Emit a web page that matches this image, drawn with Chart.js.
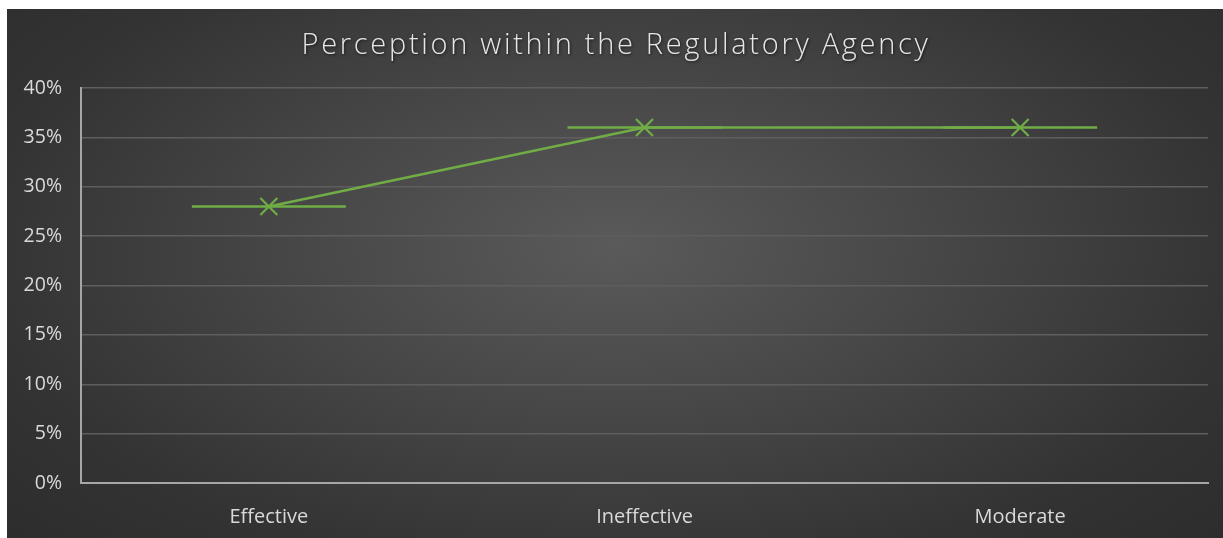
<!DOCTYPE html>
<html>
<head>
<meta charset="utf-8">
<script src="https://cdn.jsdelivr.net/npm/chart.js@4"></script>
<style>
  html, body { margin: 0; padding: 0; background: #ffffff; }
  #wrap {
    position: absolute; left: 7px; top: 9px; width: 1216px; height: 529px;
    background: radial-gradient(ellipse 75% 90% at 50% 45%, #5a5a5a 0%, #474747 35%, #333333 70%, #2a2a2a 100%);
  }
  canvas { display: block; }
</style>
</head>
<body>
<div id="wrap"><canvas id="c" width="1216" height="529"></canvas></div>
<script>
const chartTitle = 'Perception within the Regulatory Agency';
const categories = ['Effective', 'Ineffective', 'Moderate'];
const values = [0.28, 0.36, 0.36];
const yTicks = [0, 0.05, 0.10, 0.15, 0.20, 0.25, 0.30, 0.35, 0.40];
const barHalfWidth = 0.205; // horizontal segment half-width, in category units

const mainData = categories.map((c, i) => ({ x: i, y: values[i] }));
const segData = [];
categories.forEach((c, i) => {
  segData.push({ x: i - barHalfWidth, y: values[i] });
  segData.push({ x: i + barHalfWidth, y: values[i] });
  if (i < categories.length - 1) segData.push({ x: i + 0.5, y: null });
});

const titlePlugin = {
  id: 'customTitle',
  afterDraw(chart) {
    const ctx = chart.ctx;
    ctx.save();
    ctx.font = '300 29px "Open Sans"';
    ctx.letterSpacing = '2.7px';
    ctx.fillStyle = '#e6e6e6';
    ctx.textAlign = 'center';
    ctx.textBaseline = 'middle';
    ctx.shadowColor = 'rgba(0,0,0,0.6)';
    ctx.shadowBlur = 3;
    ctx.shadowOffsetX = 1;
    ctx.shadowOffsetY = 1;
    ctx.fillText(chartTitle, chart.width / 2 + 1, 37);
    ctx.restore();
  }
};

new Chart(document.getElementById('c'), {
  type: 'line',
  data: {
    datasets: [
      {
        data: mainData,
        borderColor: '#70ad47',
        borderWidth: 2.5,
        tension: 0,
        pointStyle: 'crossRot',
        pointRadius: 12,
        pointBorderWidth: 2.25,
        pointBorderColor: '#70ad47',
        pointBackgroundColor: '#70ad47',
        order: 1
      },
      {
        data: segData,
        borderColor: '#70ad47',
        borderWidth: 2.5,
        tension: 0,
        spanGaps: false,
        pointRadius: 0,
        order: 2
      }
    ]
  },
  plugins: [titlePlugin],
  options: {
    responsive: false,
    animation: false,
    layout: { padding: { top: 79, right: 15, bottom: 0, left: 0 } },
    plugins: { legend: { display: false }, tooltip: { enabled: false }, title: { display: false } },
    scales: {
      x: {
        type: 'linear',
        min: -0.5,
        max: categories.length - 0.5,
        afterBuildTicks(scale) { scale.ticks = categories.map((c, i) => ({ value: i })); },
        afterFit(scale) { scale.height = 55; },
        grid: { display: false, drawTicks: false },
        border: { display: true, color: '#a6a6a6', width: 2 },
        ticks: {
          padding: 22,
          maxRotation: 0,
          color: '#d9d9d9',
          font: { family: 'Open Sans', size: 20 },
          callback: (v) => categories[v]
        }
      },
      y: {
        min: 0,
        max: 0.4,
        afterBuildTicks(scale) { scale.ticks = yTicks.map(v => ({ value: v })); },
        afterFit(scale) { scale.width = 74; },
        grid: { color: '#5e5e5e', lineWidth: 1.5, drawTicks: false },
        border: { display: true, color: '#a6a6a6', width: 2 },
        ticks: {
          padding: 19,
          color: '#d9d9d9',
          font: { family: 'Open Sans', size: 19.5 },
          callback: (v) => Math.round(v * 100) + '%'
        }
      }
    }
  }
});
</script>
</body>
</html>
